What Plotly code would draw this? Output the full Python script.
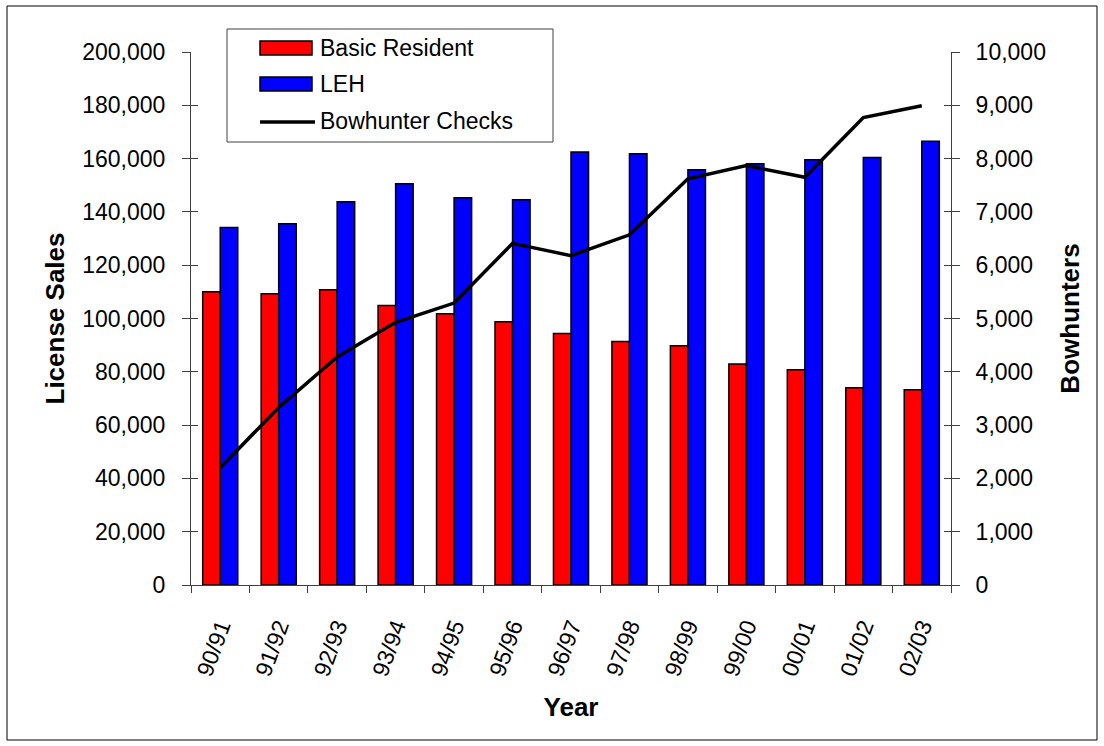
import plotly.graph_objects as go

years = ["90/91", "91/92", "92/93", "93/94", "94/95", "95/96", "96/97",
         "97/98", "98/99", "99/00", "00/01", "01/02", "02/03"]
basic_resident = [110000, 109300, 110800, 104900, 101800, 98800, 94400,
                  91400, 89800, 82900, 80800, 74000, 73300]
leh = [134100, 135600, 143800, 150600, 145300, 144600, 162500,
       161800, 155800, 158100, 159600, 160400, 166500]
bowhunter_checks = [2200, 3330, 4280, 4930, 5290, 6410, 6180,
                    6570, 7620, 7870, 7650, 8770, 8990]

W, H = 1104, 746
L, R, T, B = 191, 951, 52, 585
FONT = "Liberation Sans, Arial, sans-serif"


def px(x):
    return (x - L) / (R - L)


def py(y):
    return (B - y) / (B - T)


fig = go.Figure()
fig.add_trace(go.Bar(x=years, y=basic_resident, name="Basic Resident",
                     marker=dict(color="#FF0000", line=dict(color="black", width=1.5)),
                     yaxis="y"))
fig.add_trace(go.Bar(x=years, y=leh, name="LEH",
                     marker=dict(color="#0000FF", line=dict(color="black", width=1.5)),
                     yaxis="y"))
fig.add_trace(go.Scatter(x=years, y=bowhunter_checks, name="Bowhunter Checks",
                         mode="lines", line=dict(color="black", width=3.5),
                         yaxis="y2"))
# invisible traces to anchor the inner-tick overlay axes
fig.add_trace(go.Scatter(x=[years[0]], y=[None], yaxis="y3", showlegend=False,
                         hoverinfo="skip", mode="markers"))
fig.add_trace(go.Scatter(x=[years[0]], y=[None], yaxis="y4", showlegend=False,
                         hoverinfo="skip", mode="markers"))

tickfont = dict(family=FONT, size=23, color="black")
titlefont = dict(family=FONT, size=26, color="black", weight="bold")

fig.update_layout(
    width=W, height=H,
    margin=dict(l=L, r=W - R, t=T, b=H - B, autoexpand=False),
    paper_bgcolor="white", plot_bgcolor="white",
    barmode="group", bargap=0.4, bargroupgap=0,
    showlegend=False,
    xaxis=dict(type="category", range=[-0.5, 12.5], tickangle=-70, tickfont=tickfont,
               showline=True, linecolor="#404040", linewidth=1,
               ticks="outside", ticklen=7, tickcolor="#404040", tickson="boundaries",
               ticklabelstandoff=18, automargin=False,
               showgrid=False, zeroline=False,
               title=dict(text="Year", font=titlefont, standoff=18)),
    yaxis=dict(range=[0, 200000], dtick=20000, tickformat=",", tickfont=tickfont,
               showline=True, linecolor="#404040", linewidth=1,
               ticks="outside", ticklen=8, tickcolor="#404040",
               ticklabelstandoff=12, automargin=False,
               showgrid=False, zeroline=False,
               title=dict(text="License Sales", font=titlefont, standoff=10)),
    yaxis2=dict(range=[0, 10000], dtick=1000, tickformat=",", tickfont=tickfont,
                overlaying="y", side="right",
                showline=True, linecolor="#404040", linewidth=1,
                ticks="outside", ticklen=8, tickcolor="#404040",
                ticklabelstandoff=11, automargin=False,
                showgrid=False, zeroline=False,
                title=dict(text="Bowhunters", font=titlefont, standoff=15)),
    yaxis3=dict(range=[0, 200000], dtick=20000, overlaying="y", side="left",
                showticklabels=False, ticks="inside", ticklen=7, tickcolor="#404040",
                showline=False, showgrid=False, zeroline=False),
    yaxis4=dict(range=[0, 10000], dtick=1000, overlaying="y", side="right",
                showticklabels=False, ticks="inside", ticklen=7, tickcolor="#404040",
                showline=False, showgrid=False, zeroline=False),
)

shapes = []
annotations = []
# outer frame
shapes.append(dict(type="rect", xref="paper", yref="paper",
                   x0=px(7), x1=px(1097), y0=py(740), y1=py(6),
                   line=dict(color="black", width=1), fillcolor="rgba(0,0,0,0)",
                   layer="below"))
# legend box
shapes.append(dict(type="rect", xref="paper", yref="paper",
                   x0=px(227), x1=px(553), y0=py(142), y1=py(29),
                   line=dict(color="#404040", width=1), fillcolor="white"))
legend_items = [("Basic Resident", "#FF0000", 48), ("LEH", "#0000FF", 84),
                ("Bowhunter Checks", None, 121)]
for label, color, yc in legend_items:
    if color:
        shapes.append(dict(type="rect", xref="paper", yref="paper",
                           x0=px(260), x1=px(312), y0=py(yc + 7), y1=py(yc - 7),
                           line=dict(color="black", width=1.5), fillcolor=color))
    else:
        shapes.append(dict(type="line", xref="paper", yref="paper",
                           x0=px(260), x1=px(315), y0=py(yc + 1), y1=py(yc + 1),
                           line=dict(color="black", width=3.5)))
    annotations.append(dict(xref="paper", yref="paper", x=px(318), y=py(yc),
                            xanchor="left", yanchor="middle", showarrow=False,
                            text=label, font=dict(family=FONT, size=23, color="black")))

fig.update_layout(shapes=shapes, annotations=annotations)

fig.write_html("out.html")
